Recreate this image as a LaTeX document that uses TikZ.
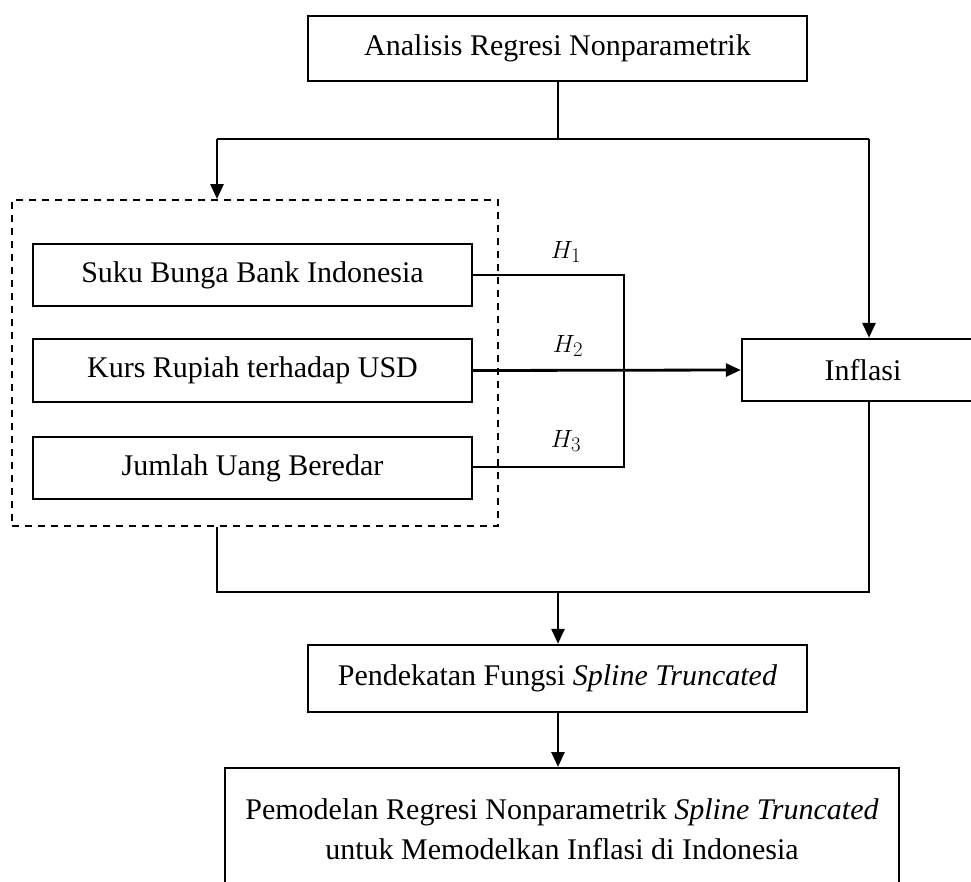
\documentclass[tikz,border=0pt]{standalone}
\usepackage{fontspec}
\setmainfont{Liberation Serif}
\usetikzlibrary{arrows.meta}
\begin{document}
\begin{tikzpicture}[x=1pt,y=-1pt,
  box/.style={draw, line width=2.4pt, inner sep=0pt, align=center, font=\fontsize{30}{40}\selectfont},
  conn/.style={line width=2.8pt},
  arr/.style={conn, -{Triangle[length=15pt,width=13pt]}},
  hlab/.style={font=\fontsize{30}{32}\selectfont}]
\useasboundingbox (0,0) rectangle (971,881);
\begin{scope}
\clip (0,0) rectangle (971,881);
\node[box, minimum width=499pt, minimum height=65pt] (top) at (557.5,48.5) {Analisis Regresi Nonparametrik};
\node[draw, dashed, dash pattern=on 7pt off 6pt, line width=1.9pt, minimum width=486pt, minimum height=326pt, inner sep=0pt] (group) at (255,363) {};
\node[box, minimum width=439pt, minimum height=62pt] (suku) at (252.5,275) {Suku Bunga Bank Indonesia};
\node[box, minimum width=439pt, minimum height=63pt] (kurs) at (252.5,370.5) {Kurs Rupiah terhadap USD};
\node[box, minimum width=439pt, minimum height=62pt] (jumlah) at (252.5,468) {Jumlah Uang Beredar};
\node[draw, line width=2.4pt, minimum width=242pt, minimum height=62pt, inner sep=0pt] (inflasi) at (863,370) {};
\node[font=\fontsize{30}{40}\selectfont] (inflasitext) at (863,370) {Inflasi};
\node[box, minimum width=499pt, minimum height=67pt] (pend) at (557.5,678.5) {Pendekatan Fungsi \textit{Spline Truncated}};
\node[draw, line width=2.4pt, minimum width=674pt, minimum height=150pt, inner sep=0pt, anchor=north] (model) at (562,767) {};
\node[align=center, font=\fontsize{30}{40}\selectfont] (modeltext) at (562,829) {Pemodelan Regresi Nonparametrik \textit{Spline Truncated}\\untuk Memodelkan Inflasi di Indonesia};

\coordinate (split) at (558,139);
\coordinate (splitL) at (217,139);
\coordinate (splitR) at (869,139);
\coordinate (j1) at (624,275);
\coordinate (j3) at (624,467);
\coordinate (merge) at (558,592);
\coordinate (mergeL) at (217,592);
\coordinate (mergeR) at (869,592);

\draw[conn] (top.south -| split) -- (split);
\draw[conn] (splitL) -- (splitR);
\draw[arr] (splitL) -- (splitL |- group.north);
\draw[arr] (splitR) -- (splitR |- inflasi.north);

\draw[conn] (suku.east) -- (j1) -- (j3) -- (suku.east |- j3);
\draw[arr] (kurs.east) -- (inflasi.west);
\node[hlab] (h1) at (566,252) {$H_1$};
\node[hlab] (h2) at (568,346) {$H_2$};
\node[hlab] (h3) at (566,441) {$H_3$};

\draw[conn] (mergeL |- group.south) -- (mergeL) -- (mergeR) -- (mergeR |- inflasi.south);
\draw[arr] (merge) -- (pend.north -| merge);
\draw[arr] (pend.south -| merge) -- (model.north -| merge);
\end{scope}
\end{tikzpicture}
\end{document}
